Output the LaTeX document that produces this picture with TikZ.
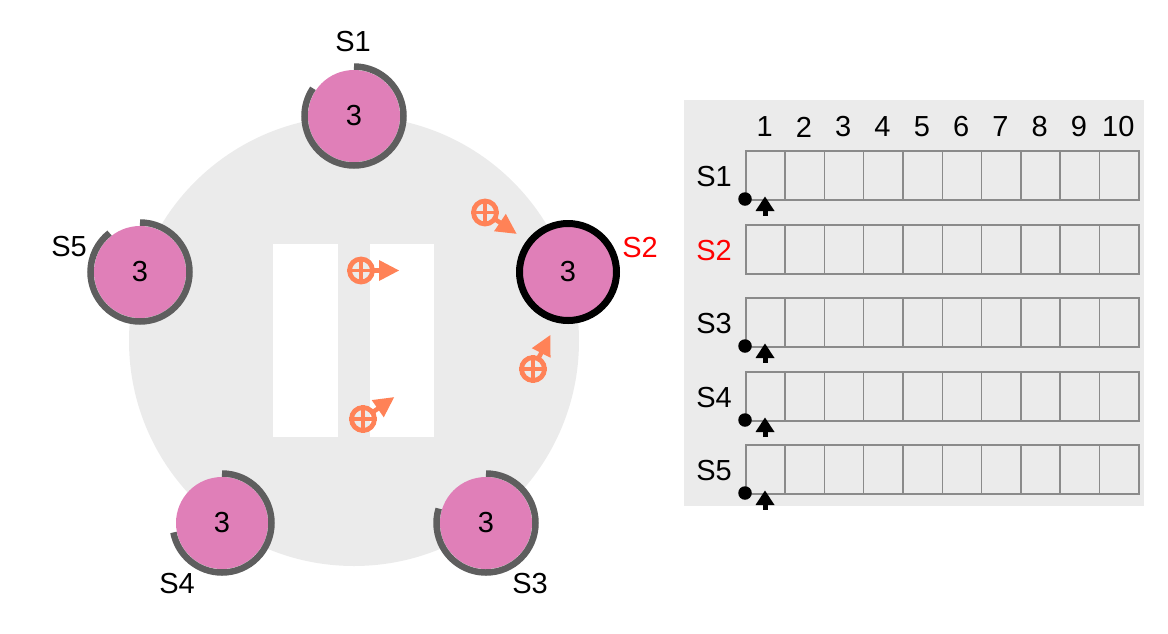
\documentclass[tikz,border=0pt]{standalone}
\usepackage{fontspec}
\setmainfont{Liberation Sans}
\definecolor{bggray}{HTML}{EBEBEB}
\definecolor{pinkc}{HTML}{E07FB8}
\definecolor{arcgray}{HTML}{5E5E5E}
\definecolor{orangec}{HTML}{FF8257}
\definecolor{cellline}{HTML}{8A8A8A}
\definecolor{redc}{HTML}{FF0000}
\newcommand\gsym[4]{%
  \node[gcirc] (#1) at (#2,#3) {};
  \draw[orangec, line width=3.8pt] (#1.west) -- (#1.east) (#1.north) -- (#1.south);
  \begin{scope}[shift={(#2,#3)}, rotate=#4]
    \draw[orangec, line width=4.5pt] (12,0) -- (21,0);
    \fill[orangec] (18,-10.5) -- (38,0) -- (18,10.5) -- cycle;
  \end{scope}}
\begin{document}
\begin{tikzpicture}[x=1pt,y=-1pt,
  srv/.style={circle, fill=pinkc, minimum size=92pt, inner sep=0pt, font=\fontsize{29}{29}\selectfont},
  garc/.style={draw=arcgray, line width=6.5pt},
  lbl/.style={font=\fontsize{29}{29}\selectfont, inner sep=0pt},
  gcirc/.style={circle, draw=orangec, line width=4.8pt, minimum size=23pt, inner sep=0pt},
  cell/.style={draw=cellline, line width=1.5pt, fill=bggray, minimum width=39.3pt, minimum height=49pt, inner sep=0pt, anchor=north west},
  dotm/.style={circle, fill=black, minimum size=13.5pt, inner sep=0pt},
]
\useasboundingbox (0,0) rectangle (1168,633);
% ring background
\fill[bggray] (354,341) circle[radius=225];
\fill[white] (273,244) rectangle (338,437);
\fill[white] (370,244) rectangle (434,437);
% messages
\gsym{m1}{485}{212.5}{-34}
\gsym{m2}{361}{270.5}{0}
\gsym{m3}{533}{369}{63}
\gsym{m4}{363}{419}{35}
% servers
\node[srv] (s1) at (354,116) {3};
\draw[garc] (s1.center) ++(-90:49.5) arc[start angle=-90, end angle=214, radius=49.5];
\node[srv, draw=black, line width=7pt, minimum size=97pt] (s2) at (568,272) {3};
\node[srv] (s3) at (486,523) {3};
\draw[garc] (s3.center) ++(-90:49.5) arc[start angle=-90, end angle=197, radius=49.5];
\node[srv] (s4) at (222,523) {3};
\draw[garc] (s4.center) ++(-90:49.5) arc[start angle=-90, end angle=169, radius=49.5];
\node[srv] (s5) at (140,272) {3};
\draw[garc] (s5.center) ++(-90:49.5) arc[start angle=-90, end angle=232, radius=49.5];
% labels
\node[lbl] (l1) at (353,42) {S1};
\node[lbl, text=redc] (l2) at (640,248) {S2};
\node[lbl] (l3) at (530,584) {S3};
\node[lbl] (l4) at (177,584) {S4};
\node[lbl] (l5) at (69,247) {S5};
% table
\fill[bggray] (684,100) rectangle (1144,506);
\foreach \i in {1,...,10} {
  \node[lbl] (h\i) at ({745+39.3*(\i-0.5)},127) {\i};
}
\foreach \r/\yy/\col in {1/150/black, 2/224/redc, 3/297/black, 4/371/black, 5/444/black} {
  \node[lbl, text=\col] (r\r) at (714,{\yy+26.5}) {S\r};
  \foreach \i in {1,...,10} {
    \node[cell] (c\r-\i) at ({745+39.3*(\i-1)},\yy) {};
  }
}
\foreach \r/\yy in {1/199, 3/346, 4/420, 5/493} {
  \node[dotm] (d\r) at (745,\yy) {};
  \fill[black] (765,\yy-2.5) -- (774.5,\yy+12) -- (755.5,\yy+12) -- cycle;
  \fill[black] (762.5,\yy+11) rectangle (767.5,\yy+17);
}
\end{tikzpicture}
\end{document}
